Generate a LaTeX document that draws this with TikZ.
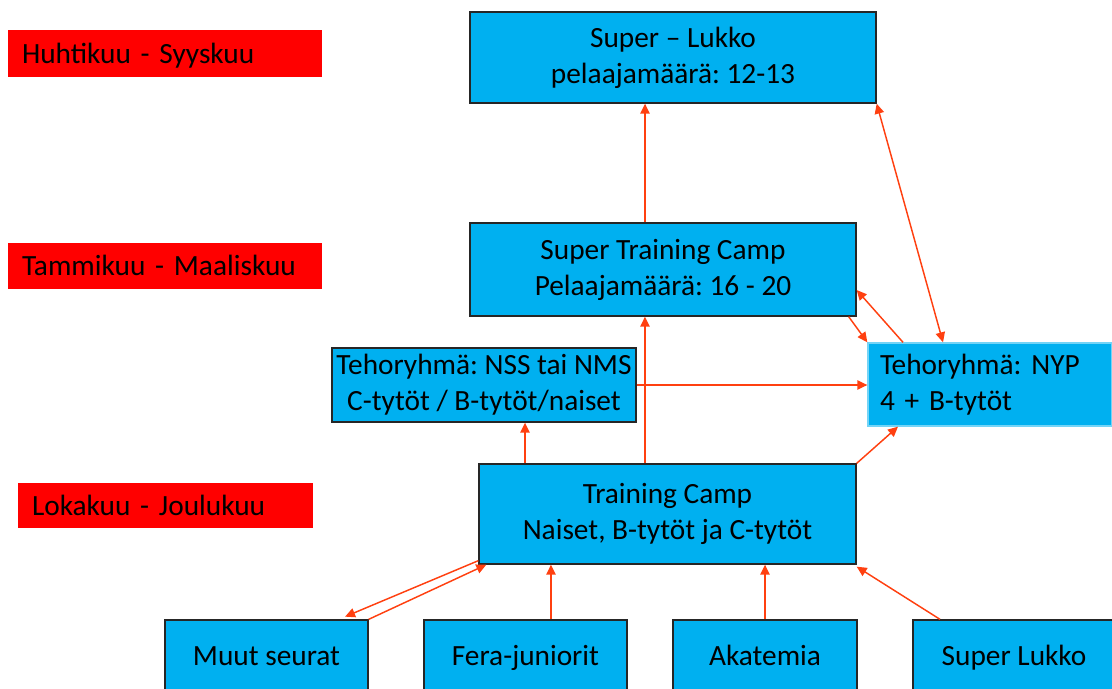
\documentclass[tikz,border=0pt]{standalone}
\usepackage{fontspec}
\setmainfont{Carlito}
\usetikzlibrary{arrows.meta}

\definecolor{boxblue}{RGB}{0,176,240}
\definecolor{arrowred}{RGB}{255,64,16}

\begin{document}
\frenchspacing
\begin{tikzpicture}[x=0.75pt,y=-0.75pt,
  box/.style={draw=black!85,line width=1pt,fill=boxblue,inner sep=0pt,align=center,
    font=\fontsize{22}{27}\selectfont},
  leaf/.style={box,minimum height=57pt,text height=15pt,text depth=4pt},
  period/.style={fill=red,inner xsep=10.5pt,inner ysep=0pt,align=left,minimum height=35pt,
    text height=17pt,text depth=2.5pt,font=\fontsize{22}{27}\selectfont},
  arr/.style={draw=arrowred,line width=1.1pt,-{Triangle[length=7.5pt,width=7pt]}}]

  \useasboundingbox (0,0) rectangle (1112,688);

  \node [period,text width=214.5pt] (huhti) at (165,53.5) {Huhtikuu - Syyskuu};
  \node [period,text width=214.5pt] (tammi) at (165,266) {Tammikuu - Maaliskuu};
  \node [period,text width=200.25pt,minimum height=33.75pt] (loka) at (165.5,505.5) {Lokakuu - Joulukuu};

  \node [box,minimum width=304.5pt,minimum height=68.25pt] (sl) at (673,57.5) {Super -- Lukko\\pelaajamäärä: 12-13};
  \node [box,minimum width=289.5pt,minimum height=69.75pt] (stc) at (663,269.5) {Super Training Camp\\Pelaajamäärä: 16 - 20};
  \node [box,minimum width=228pt,minimum height=55.5pt] (nss) at (484,385) {Tehoryhmä: NSS tai NMS\\C-tytöt / B-tytöt/naiset};
  \node [box,draw=boxblue!55,text width=165pt,inner xsep=9pt,align=left,minimum height=62.25pt] (nyp) at (990,384.5) {Tehoryhmä: NYP\\4 + B-tytöt};
  \node [box,minimum width=282.75pt,minimum height=75pt] (tc) at (667.5,514) {Training Camp\\Naiset, B-tytöt ja C-tytöt};

  \node [leaf,minimum width=152.25pt] (muut) at (266.5,658) {Muut seurat};
  \node [leaf,minimum width=152.25pt] (fera) at (525.5,658) {Fera-juniorit};
  \node [leaf,minimum width=138pt] (akat) at (765,658) {Akatemia};
  \node [leaf,minimum width=151.5pt] (slb) at (1014,658) {Super Lukko};

  \draw [arr] ([xshift=-13.5pt]stc.north) -- ([xshift=-13.5pt]stc.north |- sl.south);
  \draw [arr] ([xshift=-16.9pt]tc.north) -- ([xshift=-16.9pt]tc.north |- stc.south);
  \draw [arr] ([xshift=30.75pt]nss.south |- tc.north) -- ([xshift=30.75pt]nss.south);
  \draw [arr] (nss.east) -- (nss.east -| nyp.west);
  \draw [arr] (tc.north east) -- ([xshift=-69pt]nyp.south);
  \draw [arr] ([xshift=-65.25pt]nyp.north) -- ([yshift=-15.4pt]stc.east);
  \draw [arr] ([xshift=-6pt]stc.south east) -- (nyp.north west);
  \draw [arr,{Triangle[length=7.5pt,width=7pt]}-{Triangle[length=7.5pt,width=7pt]}] (sl.south east) -- ([xshift=-35.25pt]nyp.north);

  \draw [arr] ([yshift=3pt]tc.south west) -- ([xshift=58.9pt,yshift=2pt]muut.north);
  \draw [arr] (muut.north east) -- ([xshift=6pt]tc.south west);
  \draw [arr] ([xshift=19.1pt]fera.north) -- ([xshift=19.1pt]fera.north |- tc.south);
  \draw [arr] (akat.north) -- (akat.north |- tc.south);
  \draw [arr] ([xshift=-55.5pt]slb.north) -- ([yshift=-1.5pt]tc.south east);

\end{tikzpicture}
\end{document}
